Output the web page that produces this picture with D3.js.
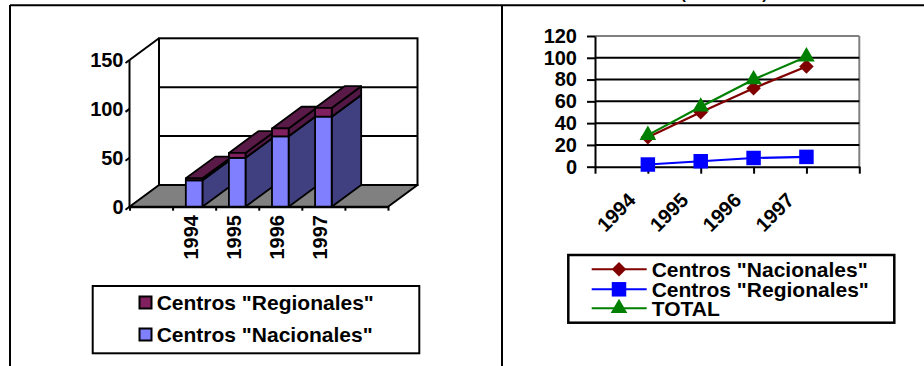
<!DOCTYPE html>
<html>
<head>
<meta charset="utf-8">
<script src="https://cdn.jsdelivr.net/npm/d3@7"></script>
<style>
  html, body { margin: 0; padding: 0; background: #fff; }
  svg { display: block; }
  text { font-family: "Liberation Sans", Arial, Helvetica, sans-serif; font-weight: bold; fill: #000; }
</style>
</head>
<body>
<svg id="chart" width="924" height="366"></svg>
<script>
// ---- data ----
const years = ["1994", "1995", "1996", "1997"];
const nacionales = [27, 50, 72, 92];
const regionales = [2, 5, 8, 9];
const total = [29, 55, 80, 101];
const barTicks = [0, 50, 100, 150];
const lineTicks = [0, 20, 40, 60, 80, 100, 120];
const seriesNames = ['Centros "Nacionales"', 'Centros "Regionales"', "TOTAL"];
const subtitle = "(1994-1997)";

const svg = d3.select("#chart");

// ---- page frame ----
const frame = svg.append("g").attr("stroke", "#000").attr("stroke-width", 2);
frame.append("line").attr("x1", 10).attr("x2", 924).attr("y1", 5.3).attr("y2", 5.3);
frame.append("line").attr("x1", 10).attr("x2", 10).attr("y1", 5).attr("y2", 366);
frame.append("line").attr("x1", 502).attr("x2", 502).attr("y1", 5).attr("y2", 366);
svg.append("text").attr("x", 724).attr("y", -1.2).attr("text-anchor", "middle")
  .style("font-size", "16px").text(subtitle);

// ================= 3D stacked columns =================
const DX = 29.5, DY = -21.7;
const y3 = d3.scaleLinear().domain([0, 150]).range([206.7, 60]);
const x3 = d3.scaleLinear().domain([0, 6]).range([129.5, 388]);
const g3 = svg.append("g");
const line = d3.line();

// back wall
g3.append("rect")
  .attr("x", x3(0) + DX).attr("y", y3(150) + DY)
  .attr("width", x3(6) - x3(0)).attr("height", y3(0) - y3(150))
  .attr("fill", "#fff").attr("stroke", "#000").attr("stroke-width", 2);
g3.selectAll(".wallgrid").data(barTicks.filter(t => t > 0 && t < 150)).join("line")
  .attr("x1", x3(0) + DX).attr("x2", x3(6) + DX)
  .attr("y1", d => y3(d) + DY).attr("y2", d => y3(d) + DY)
  .attr("stroke", "#000").attr("stroke-width", 2);
// left wall top edge
g3.append("path")
  .attr("d", line([[x3(0), y3(150)], [x3(0) + DX, y3(150) + DY]]))
  .attr("stroke", "#000").attr("stroke-width", 2);

// floor
g3.append("path")
  .attr("d", line([[x3(0), y3(0)], [x3(6), y3(0)], [x3(6) + DX, y3(0) + DY], [x3(0) + DX, y3(0) + DY]]) + "Z")
  .attr("fill", "#808080").attr("stroke", "#000").attr("stroke-width", 2).attr("stroke-linejoin", "round");

// x axis ticks along the floor front edge
const xAx3 = d3.axisBottom(x3).tickValues(d3.range(0, 7)).tickFormat("").tickSize(4).tickSizeOuter(0);
g3.append("g").attr("transform", `translate(0,${y3(0)})`).call(xAx3)
  .call(s => s.selectAll("line, path").attr("stroke", "#000").attr("stroke-width", 2));

// y axis
g3.append("line").attr("x1", x3(0)).attr("x2", x3(0)).attr("y1", y3(0)).attr("y2", y3(150))
  .attr("stroke", "#000").attr("stroke-width", 2);
g3.selectAll(".ytick3").data(barTicks).join("line")
  .attr("x1", x3(0) - 4).attr("y1", d => y3(d) + 3)
  .attr("x2", x3(0)).attr("y2", d => y3(d))
  .attr("stroke", "#000").attr("stroke-width", 2);
g3.selectAll(".ylab3").data(barTicks).join("text")
  .attr("x", 123.5).attr("y", d => y3(d)).attr("dy", "0.35em")
  .attr("text-anchor", "end").style("font-size", "20px").text(d => d);

// stacked 3D bars
const rows = years.map((y, i) => ({ year: y, nac: nacionales[i], reg: regionales[i] }));
const stacked = d3.stack().keys(["nac", "reg"])(rows);
const barColors = {
  nac: { front: "#8080FF", side: "#404080", top: "#5A5AB0" },
  reg: { front: "#80205F", side: "#521744", top: "#5A1A48" }
};
const hw = 8.3;
years.forEach((yr, i) => {
  const gb = g3.append("g");
  const cx = x3(i + 1.5);
  const xl = cx - hw, xr = cx + hw;
  stacked.forEach(s => {
    const [v0, v1] = s[i];
    const yb = y3(v0), yt = y3(v1);
    const c = barColors[s.key];
    gb.append("path")
      .attr("d", line([[xr, yb], [xr + DX, yb + DY], [xr + DX, yt + DY], [xr, yt]]) + "Z")
      .attr("fill", c.side);
    gb.append("path")
      .attr("d", line([[xl, yt], [xl + DX, yt + DY], [xr + DX, yt + DY], [xr, yt]]) + "Z")
      .attr("fill", c.top);
    gb.append("rect").attr("x", xl).attr("y", yt).attr("width", xr - xl).attr("height", yb - yt)
      .attr("fill", c.front);
  });
  gb.selectAll("path, rect").attr("stroke", "#000").attr("stroke-width", 1.8).attr("stroke-linejoin", "round");
});

// year labels (vertical)
g3.selectAll(".xlab3").data(years).join("text")
  .attr("text-anchor", "end")
  .attr("transform", (d, i) => `translate(${x3(i + 1.5) + 4},215) rotate(-90)`)
  .style("font-size", "20px").text(d => d);

// legend
const lg3 = svg.append("g");
lg3.append("rect").attr("x", 92.7).attr("y", 286).attr("width", 326.6).attr("height", 67.3)
  .attr("fill", "#fff").attr("stroke", "#000").attr("stroke-width", 2);
const leg3 = [
  { name: seriesNames[1], color: barColors.reg.front, y: 303 },
  { name: seriesNames[0], color: barColors.nac.front, y: 335 }
];
leg3.forEach(d => {
  lg3.append("rect").attr("x", 139.5).attr("y", d.y - 6.5).attr("width", 12).attr("height", 12)
    .attr("fill", d.color).attr("stroke", "#000").attr("stroke-width", 2);
  lg3.append("text").attr("x", 156.7).attr("y", d.y).attr("dy", "0.35em")
    .style("font-size", "21px").text(d.name);
});

// ================= line chart =================
const yL = d3.scaleLinear().domain([0, 120]).range([166.7, 36]);
const xL = d3.scaleLinear().domain([0, 5]).range([595, 859.3]);
const gL = svg.append("g");

// frame of the plot area
gL.append("line").attr("x1", xL(0)).attr("x2", xL(5)).attr("y1", yL(120)).attr("y2", yL(120))
  .attr("stroke", "#808080").attr("stroke-width", 2);
gL.append("line").attr("x1", xL(5)).attr("x2", xL(5)).attr("y1", yL(120)).attr("y2", yL(0))
  .attr("stroke", "#808080").attr("stroke-width", 2);
// gridlines
gL.selectAll(".grid").data(lineTicks.filter(t => t > 0 && t < 120)).join("line")
  .attr("x1", xL(0)).attr("x2", xL(5)).attr("y1", d => yL(d)).attr("y2", d => yL(d))
  .attr("stroke", "#000").attr("stroke-width", 2);

// axes
const yAxL = d3.axisLeft(yL).tickValues(lineTicks).tickSize(8).tickPadding(10).tickSizeOuter(0);
gL.append("g").attr("transform", `translate(${xL(0)},0)`).call(yAxL)
  .call(s => s.selectAll("line, path").attr("stroke", "#000").attr("stroke-width", 2))
  .call(s => s.selectAll("text").style("font-size", "20px").attr("fill", "#000")
    .style("font-family", '"Liberation Sans", Arial, sans-serif').style("font-weight", "bold"));
const xAxL = d3.axisBottom(xL).tickValues(d3.range(0, 6)).tickFormat("").tickSize(7).tickSizeOuter(0);
gL.append("g").attr("transform", `translate(0,${yL(0)})`).call(xAxL)
  .call(s => s.selectAll("line, path").attr("stroke", "#000").attr("stroke-width", 2));
gL.selectAll(".xlabL").data(years).join("text")
  .attr("text-anchor", "end")
  .attr("transform", (d, i) => `translate(${xL(i + 1) - 11},201.5) rotate(-45)`)
  .style("font-size", "20px").text(d => d);

// series
const series = [
  { name: seriesNames[0], values: nacionales, color: "#800000", symbol: "diamond" },
  { name: seriesNames[1], values: regionales, color: "#0000FF", symbol: "square" },
  { name: seriesNames[2], values: total, color: "#008000", symbol: "triangle" }
];
function marker(type) {
  if (type === "diamond") return d3.symbol(d3.symbolSquare, 105)();
  if (type === "square") return d3.symbol(d3.symbolSquare, 210)();
  return d3.symbol(d3.symbolTriangle, 120)();
}
const lineGen = d3.line().x((d, i) => xL(i + 1)).y(d => yL(d));
series.forEach(s => {
  gL.append("path").attr("d", lineGen(s.values)).attr("fill", "none")
    .attr("stroke", s.color).attr("stroke-width", 2.2);
  gL.selectAll(null).data(s.values).join("path")
    .attr("d", marker(s.symbol))
    .attr("transform", (d, i) => `translate(${xL(i + 1)},${yL(d)})` + (s.symbol === "diamond" ? " rotate(45)" : ""))
    .attr("fill", s.color);
});

// legend
const lgL = svg.append("g");
lgL.append("rect").attr("x", 568.3).attr("y", 255).attr("width", 326).attr("height", 67.7)
  .attr("fill", "#fff").attr("stroke", "#000").attr("stroke-width", 2.5);
const legY = [269.3, 289.3, 308.3];
series.forEach((s, k) => {
  const y = legY[k];
  lgL.append("line").attr("x1", 591.7).attr("x2", 646.7).attr("y1", y).attr("y2", y)
    .attr("stroke", s.color).attr("stroke-width", 2);
  lgL.append("path").attr("d", marker(s.symbol))
    .attr("transform", `translate(619,${y})` + (s.symbol === "diamond" ? " rotate(45)" : ""))
    .attr("fill", s.color);
  lgL.append("text").attr("x", 651.7).attr("y", y).attr("dy", "0.35em")
    .style("font-size", "21px").text(s.name);
});
</script>
</body>
</html>
